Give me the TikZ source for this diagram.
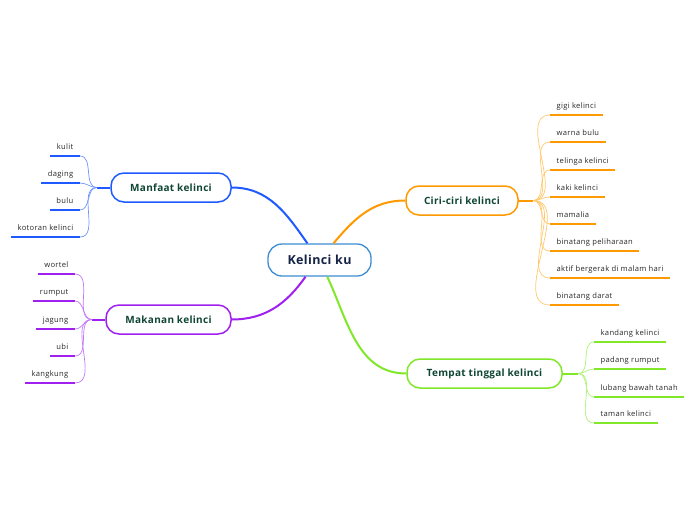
\documentclass[tikz,border=0pt]{standalone}
\usepackage{fontspec}
\setmainfont{Open Sans}
\newfontfamily\leaffont[LetterSpace=4]{Open Sans}
\newfontfamily\boxfont[LetterSpace=3]{Open Sans}
\definecolor{cblue}{RGB}{30,90,255}
\definecolor{lblue}{RGB}{110,150,255}
\definecolor{cpurple}{RGB}{160,32,240}
\definecolor{lpurple}{RGB}{195,120,250}
\definecolor{corange}{RGB}{255,153,0}
\definecolor{lorange}{RGB}{255,200,110}
\definecolor{cgreen}{RGB}{128,232,40}
\definecolor{lgreen}{RGB}{175,242,120}
\definecolor{cborder}{RGB}{60,140,210}
\definecolor{boxtext}{RGB}{15,70,50}
\definecolor{ctext}{RGB}{20,35,70}
\definecolor{leaftext}{RGB}{40,40,40}
\tikzset{
  mainbox/.style={draw=cborder, line width=1.3pt, rounded corners=14pt, fill=white,
    minimum width=103pt, minimum height=32pt, text=ctext, font=\boxfont\fontsize{12.5}{14}\selectfont\bfseries},
  topicbox/.style={draw=#1, line width=1.5pt, rounded corners=13pt, fill=white,
    minimum height=29pt, inner xsep=12pt, text=boxtext, font=\boxfont\fontsize{10}{12}\selectfont\bfseries},
  leaf/.style={inner xsep=6.5pt, inner ysep=4pt, text height=6pt, text depth=2.5pt,
    text=leaftext, font=\leaffont\fontsize{7.6}{9}\selectfont},
  ul/.style={line width=2pt, draw=#1},
  twig/.style={line width=0.7pt, draw=#1},
  bough/.style={line width=2pt, draw=#1},
}
\begin{document}
\begin{tikzpicture}[x=1pt,y=-1pt]
\useasboundingbox (0,0) rectangle (696,520);
% central
\node[mainbox] (c) at (319.5,260) {Kelinci ku};
% topics
\node[topicbox=cblue, minimum width=120pt] (manf) at (171,187.5) {Manfaat kelinci};
\node[topicbox=cpurple, minimum width=125pt] (mak) at (168.5,319.5) {Makanan kelinci};
\node[topicbox=corange, minimum width=112pt] (ciri) at (462,200.5) {Ciri-ciri kelinci};
\node[topicbox=cgreen, minimum width=155pt] (temp) at (484.5,373.5) {Tempat tinggal kelinci};
% boughs
\draw[bough=cblue] (c.126) to[out=125,in=0] (manf.east);
\draw[bough=corange] (c.50) to[out=50,in=180] (ciri.west);
\draw[bough=cpurple] (c.230) to[out=235,in=0] (mak.east);
\draw[bough=cgreen] (c.295) to[out=295,in=180] (temp.west);
% branch points
\coordinate (bpM) at (97,187.5);
\coordinate (bpK) at (92,319.5);
\coordinate (bpC) at (533,200.5);
\coordinate (bpT) at (578,373.5);
\draw[bough=cblue] (manf.west) -- (bpM);
\draw[bough=cpurple] (mak.west) -- (bpK);
\draw[bough=corange] (ciri.east) -- (bpC);
\draw[bough=cgreen] (temp.east) -- (bpT);
% Manfaat leaves
\foreach \n/\t/\y in {m1/kulit/156, m2/daging/183, m3/bulu/210, m4/kotoran kelinci/237}{
  \node[leaf, anchor=south east] (\n) at (80,\y) {\t};
  \draw[ul=cblue] (\n.south west) -- (\n.south east);
  \draw[twig=lblue] (bpM) to[out=180,in=0] (\n.south east);
}
% Makanan leaves
\foreach \n/\t/\y in {k1/wortel/274, k2/rumput/301, k3/jagung/329, k4/ubi/356, k5/kangkung/383}{
  \node[leaf, anchor=south east] (\n) at (75,\y) {\t};
  \draw[ul=cpurple] (\n.south west) -- (\n.south east);
  \draw[twig=lpurple] (bpK) to[out=180,in=0] (\n.south east);
}
% Ciri leaves
\foreach \n/\t/\y in {c1/gigi kelinci/115, c2/warna bulu/142, c3/telinga kelinci/170, c4/kaki kelinci/197, c5/mamalia/224, c6/binatang peliharaan/251, c7/aktif bergerak di malam hari/278, c8/binatang darat/305}{
  \node[leaf, anchor=south west] (\n) at (550,\y) {\t};
  \draw[ul=corange] (\n.south west) -- (\n.south east);
  \draw[twig=lorange] (bpC) to[out=0,in=180] (\n.south west);
}
% Tempat leaves
\foreach \n/\t/\y in {t1/kandang kelinci/342, t2/padang rumput/369, t3/lubang bawah tanah/397, t4/taman kelinci/423}{
  \node[leaf, anchor=south west] (\n) at (594,\y) {\t};
  \draw[ul=cgreen] (\n.south west) -- (\n.south east);
  \draw[twig=lgreen] (bpT) to[out=0,in=180] (\n.south west);
}
\end{tikzpicture}
\end{document}
